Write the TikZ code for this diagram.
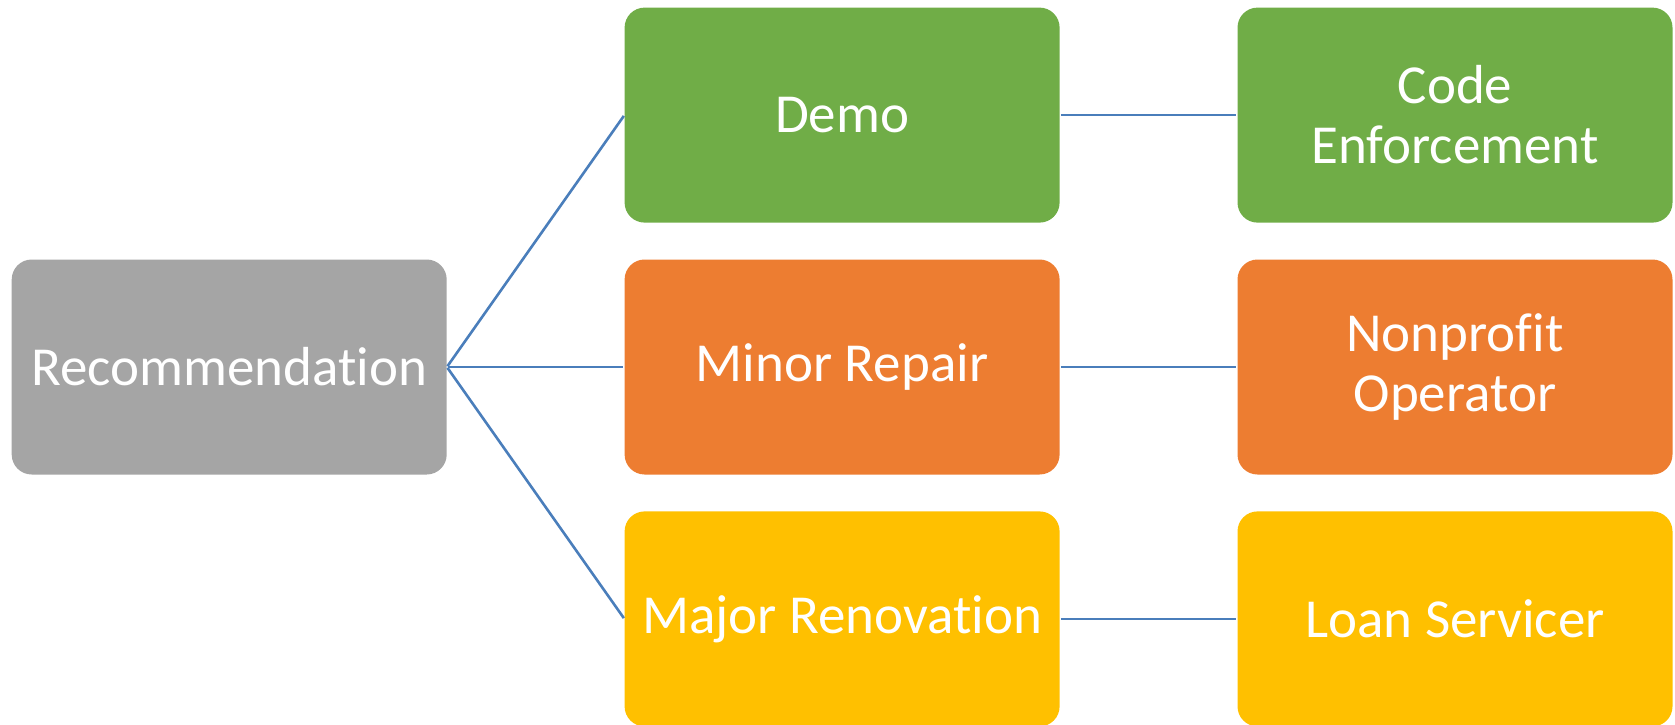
\documentclass[tikz,border=0pt]{standalone}
\usepackage{fontspec}
\setmainfont[Ligatures=NoCommon]{Carlito}
\usepackage{xcolor}
\usepackage{tikz}
\usetikzlibrary{positioning}
\definecolor{recgray}{HTML}{A5A5A5}
\definecolor{demogreen}{HTML}{70AD47}
\definecolor{repairorange}{HTML}{ED7D31}
\definecolor{renogold}{HTML}{FFC000}
\definecolor{linkblue}{HTML}{4A7EBB}

\begin{document}
\begin{tikzpicture}[x=1pt,y=1pt,
  box/.style={rectangle,rounded corners=20pt,minimum width=435pt,minimum height=215pt,
    inner sep=0pt,align=center,text=white,font=\fontsize{55}{60}\selectfont},
  link/.style={draw=linkblue,line width=2.6pt,shorten <=1pt,shorten >=1pt}]
\useasboundingbox (0,0) rectangle (1675,-724);
% root and first level
\node[box,fill=recgray] (rec) at (229.2,-367) {Recommendation};
\node[box,fill=repairorange,right=177.5pt of rec] (repair) {Minor Repair};
\node[box,fill=demogreen,above=36.5pt of repair] (demo) {Demo};
\node[box,fill=renogold,below=36.5pt of repair] (reno) {Major Renovation};
% second level
\node[box,fill=demogreen,right=177.5pt of demo] (code) {Code\\Enforcement};
\node[box,fill=repairorange,right=177.5pt of repair] (nonprofit) {Nonprofit\\Operator};
\node[box,fill=renogold,right=177.5pt of reno] (loan) {Loan Servicer};
\foreach \a/\b in {rec/demo,rec/repair,rec/reno,demo/code,repair/nonprofit,reno/loan}{
  \draw[link] (\a.east)--(\b.west);}
\end{tikzpicture}
\end{document}
